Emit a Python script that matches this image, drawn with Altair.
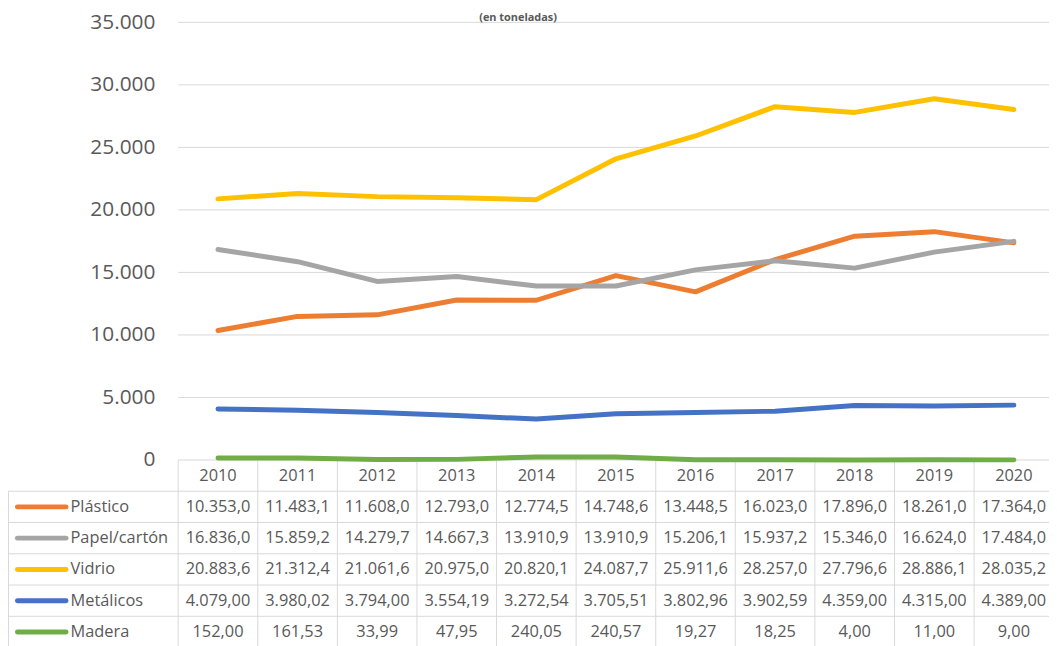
import altair as alt
import pandas as pd

# ---------------- data ----------------
years = [2010, 2011, 2012, 2013, 2014, 2015, 2016, 2017, 2018, 2019, 2020]
series_names = ["Plástico", "Papel/cartón", "Vidrio", "Metálicos", "Madera"]
plastico = [10353.0, 11483.1, 11608.0, 12793.0, 12774.5, 14748.6, 13448.5, 16023.0, 17896.0, 18261.0, 17364.0]
papel = [16836.0, 15859.2, 14279.7, 14667.3, 13910.9, 13910.9, 15206.1, 15937.2, 15346.0, 16624.0, 17484.0]
vidrio = [20883.6, 21312.4, 21061.6, 20975.0, 20820.1, 24087.7, 25911.6, 28257.0, 27796.6, 28886.1, 28035.2]
metalicos = [4079.00, 3980.02, 3794.00, 3554.19, 3272.54, 3705.51, 3802.96, 3902.59, 4359.00, 4315.00, 4389.00]
madera = [152.00, 161.53, 33.99, 47.95, 240.05, 240.57, 19.27, 18.25, 4.00, 11.00, 9.00]
decimals = [1, 1, 1, 2, 2]
colors = ["#ED7D31", "#A5A5A5", "#FFC000", "#4472C4", "#70AD47"]
y_ticks = [0, 5000, 10000, 15000, 20000, 25000, 30000, 35000]
title_text = "(en toneladas)"

values = [plastico, papel, vidrio, metalicos, madera]

# ---------------- layout (page pixel geometry) ----------------
PAGE_OFF = 8
W, H = 1049, 640
COL_PX = 80.2          # width of one year column
X0_PAGE = 179.5        # left edge of first year column
ZERO_PAGE_Y = 461.0    # page y of value 0
PX_PER_T = 63 / 5000   # pixels per tonne
ROW_T = 2500           # table row height in value units (31.5 px)

u_left = (PAGE_OFF - X0_PAGE) / COL_PX
u_right = u_left + W / COL_PX
v_top = (ZERO_PAGE_Y - PAGE_OFF) / PX_PER_T
v_bottom = v_top - H / PX_PER_T


def px_to_u(px):
    return (px - X0_PAGE) / COL_PX


def py_to_v(py):
    return (ZERO_PAGE_Y - py) / PX_PER_T


def fmt(v, d):
    s = f"{v:,.{d}f}"
    return s.replace(",", "X").replace(".", ",").replace("X", ".")


GRID = "#D9D9D9"
TXT = "#595959"
FONT = "Open Sans"

xscale = alt.Scale(domain=[u_left, u_right], nice=False, zero=False)
yscale = alt.Scale(domain=[v_bottom, v_top], nice=False, zero=False)
yaxis = alt.Axis(
    values=y_ticks,
    labelExpr="replace(format(datum.value, ',.0f'), ',', '.')",
    grid=False, domain=False, ticks=False, tickSize=0, labelPadding=0,
    offset=-(156 - PAGE_OFF), labelFont=FONT, labelFontSize=21,
    labelColor=TXT, title=None,
)
X = alt.X("x:Q", scale=xscale, axis=None)
Y = alt.Y("y:Q", scale=yscale, axis=yaxis)
cscale = alt.Scale(domain=series_names, range=colors)

# ---------------- gridlines & table borders ----------------
rules = []
for t in y_ticks[1:]:
    rules.append({"x": 0, "x2": u_right, "y": t, "y2": t})
rules.append({"x": 0, "x2": u_right, "y": 0, "y2": 0})
for k in range(1, 7):
    rules.append({"x": u_left, "x2": u_right, "y": -k * ROW_T, "y2": -k * ROW_T})
for k in range(0, 12):
    rules.append({"x": k, "x2": k, "y": 0, "y2": -6 * ROW_T})
lb = px_to_u(PAGE_OFF + 0.5)
rules.append({"x": lb, "x2": lb, "y": -ROW_T, "y2": -6 * ROW_T})
rules_df = pd.DataFrame(rules)

grid_layer = alt.Chart(rules_df).mark_rule(color=GRID, strokeWidth=1).encode(
    x=X, x2="x2:Q", y=Y, y2="y2:Q"
)

# ---------------- lines ----------------
line_rows = []
for name, vals in zip(series_names, values):
    for i, v in enumerate(vals):
        line_rows.append({"series": name, "x": i + 0.5, "y": v})
lines_df = pd.DataFrame(line_rows)

line_layers = []
for name in series_names:
    line_layers.append(
        alt.Chart(lines_df).transform_filter(alt.datum.series == name)
        .mark_line(strokeWidth=5, strokeCap="round", strokeJoin="round")
        .encode(x=X, y=Y, color=alt.Color("series:N", scale=cscale, legend=None))
    )

# ---------------- table text ----------------
header_df = pd.DataFrame({"x": [i + 0.5 for i in range(len(years))],
                          "y": [-ROW_T / 2] * len(years),
                          "label": [str(y) for y in years]})
cell_rows = []
for r, (name, vals, d) in enumerate(zip(series_names, values, decimals)):
    for i, v in enumerate(vals):
        cell_rows.append({"x": i + 0.5, "y": -(r + 1) * ROW_T - ROW_T / 2, "label": fmt(v, d)})
cells_df = pd.DataFrame(cell_rows)

names_df = pd.DataFrame({
    "series": series_names,
    "x": [px_to_u(71)] * 5,
    "y": [-(r + 1) * ROW_T - ROW_T / 2 for r in range(5)],
})
sym_df = pd.DataFrame({
    "series": series_names,
    "x": [px_to_u(17.5)] * 5,
    "x2": [px_to_u(66.5)] * 5,
    "y": [-(r + 1) * ROW_T - ROW_T / 2 for r in range(5)],
})

text_style = dict(font=FONT, fontSize=16.5, color=TXT, baseline="middle")
header_layer = alt.Chart(header_df).mark_text(align="center", **text_style).encode(x=X, y=Y, text="label:N")
cells_layer = alt.Chart(cells_df).mark_text(align="center", **text_style).encode(x=X, y=Y, text="label:N")
names_layer = alt.Chart(names_df).mark_text(align="left", **text_style).encode(x=X, y=Y, text="series:N")
sym_layer = alt.Chart(sym_df).mark_rule(strokeWidth=5, strokeCap="round").encode(
    x=X, x2="x2:Q", y=Y, color=alt.Color("series:N", scale=cscale, legend=None)
)

title_df = pd.DataFrame({"x": [px_to_u(522)], "y": [py_to_v(19)], "label": [title_text]})
title_layer = alt.Chart(title_df).mark_text(
    align="center", baseline="alphabetic", font=FONT, fontSize=11, fontWeight="bold", color=TXT
).encode(x=X, y=Y, text="label:N")

chart = alt.layer(
    grid_layer, *line_layers, sym_layer, header_layer, cells_layer, names_layer, title_layer
).properties(
    width=W, height=H, autosize=alt.AutoSizeParams(type="none"), padding=0
).configure_view(strokeWidth=0)

chart.save("out.html", embed_options={"renderer": "svg", "actions": False})
